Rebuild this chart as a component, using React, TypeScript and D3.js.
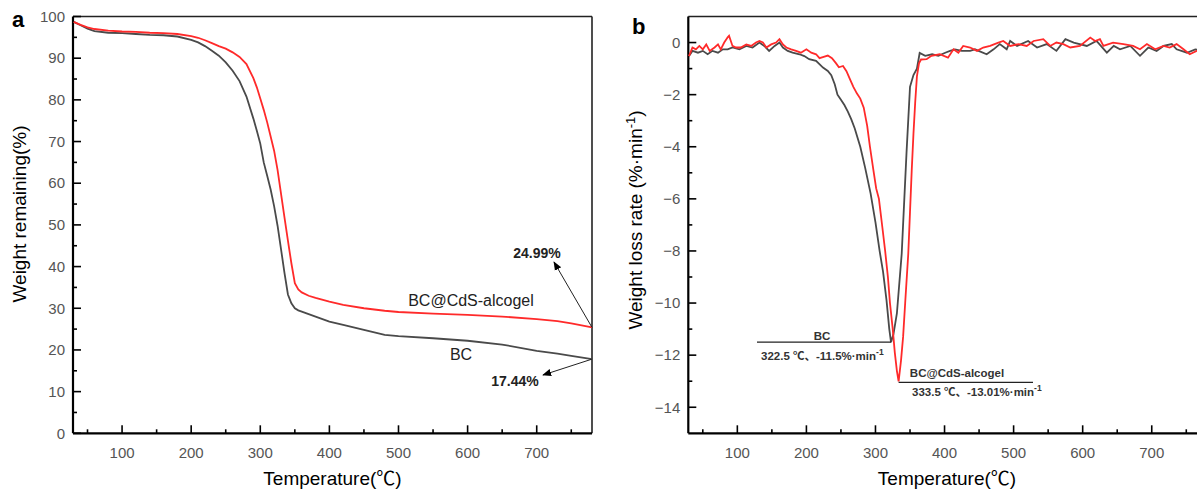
import React from "react";
import * as d3 from "d3";

// ---------- DATA ----------
const tgaTemps = [30,40,50,60,80,100,120,140,160,180,200,210,220,230,240,250,260,270,280,290,295,300,305,310,315,320,325,330,335,340,345,350,355,360,370,380,400,420,450,480,500,550,600,650,700,730,750,780];
const tgaBC = [98.7,97.9,97.1,96.5,96.1,96.0,95.8,95.6,95.5,95.2,94.4,93.8,92.9,91.8,90.6,89.0,87.0,84.5,80.8,75.5,72.6,69.5,65.0,61.8,58.5,54.5,49.8,44.2,38.5,33.3,31.2,30.0,29.5,29.2,28.6,28.0,26.8,26.0,24.8,23.6,23.3,22.8,22.2,21.3,19.8,19.1,18.6,17.8];
const tgaCdS = [98.7,98.0,97.4,97.0,96.6,96.4,96.3,96.1,96.0,95.8,95.3,94.9,94.3,93.6,92.9,92.3,91.4,90.3,88.6,85.2,83.0,80.3,77.6,74.6,71.2,67.8,63.2,57.5,51.8,46.2,40.8,36.0,34.5,33.8,33.0,32.5,31.6,30.8,30.0,29.4,29.1,28.7,28.4,28.0,27.4,26.9,26.4,25.4];

const dtgBC: [number, number][] = [
  [30,-0.52],[35,-0.32],[43,-0.39],[50,-0.32],[57,-0.45],[64,-0.32],[72,-0.39],[79,-0.26],[86,-0.26],[93,-0.19],
  [103,-0.26],[113,-0.13],[122,-0.19],[132,0.0],[139,-0.13],[146,-0.32],[154,-0.13],[161,0.0],[166,-0.19],[173,-0.32],
  [180,-0.39],[190,-0.45],[197,-0.52],[204,-0.64],[214,-0.7],[224,-0.96],[231,-1.09],[236,-1.25],[241,-1.6],[245,-2.0],
  [250,-2.2],[255,-2.4],[260,-2.65],[265,-2.95],[270,-3.3],[278,-4.0],[285,-4.8],[293,-5.8],[300,-6.9],[306,-8.0],
  [311,-8.8],[316,-9.9],[320,-11.0],[322.5,-11.5],[326,-11.2],[331,-10.4],[338,-8.1],[345,-4.2],[350,-1.7],[355,-1.25],
  [360,-1.0],[364,-0.4],[372,-0.51],[382,-0.45],[391,-0.51],[401,-0.39],[408,-0.32],[415,-0.26],[425,-0.32],[437,-0.32],
  [444,-0.26],[461,-0.45],[471,-0.26],[480,-0.06],[490,-0.26],[495,0.06],[505,-0.13],[521,0.06],[534,-0.19],[548,-0.06],
  [562,-0.32],[575,0.13],[587,0.0],[606,-0.13],[620,0.06],[635,-0.39],[645,-0.13],[654,-0.26],[669,-0.13],[683,-0.51],
  [695,-0.19],[707,-0.32],[717,-0.13],[729,-0.06],[736,-0.26],[751,-0.39],[763,-0.26],[772,-0.3],[780,-0.3]
];
const dtgCdS: [number, number][] = [
  [30,-0.52],[35,-0.19],[40,-0.26],[45,-0.13],[50,-0.26],[55,-0.07],[60,-0.32],[67,-0.19],[72,-0.07],[76,-0.26],
  [81,0.0],[86,0.2],[88,0.26],[93,-0.13],[98,-0.19],[105,-0.19],[113,-0.07],[120,-0.13],[127,0.0],[132,0.06],
  [137,0.0],[142,-0.19],[149,-0.07],[156,0.0],[161,0.13],[166,-0.07],[171,-0.19],[178,-0.26],[185,-0.32],[192,-0.39],
  [200,-0.26],[207,-0.39],[214,-0.45],[219,-0.6],[225,-0.55],[231,-0.5],[237,-0.6],[243,-0.8],[247,-0.95],[253,-0.9],
  [258,-1.1],[263,-1.4],[268,-1.7],[273,-1.95],[278,-2.15],[283,-2.5],[288,-3.2],[292,-4.0],[297,-4.9],[301,-5.6],
  [305,-6.0],[310,-7.1],[314,-8.0],[318,-9.0],[321,-10.0],[325,-11.0],[328,-11.9],[331,-12.6],[333.5,-13.01],[337,-12.2],
  [340,-11.3],[343,-10.0],[347.5,-8.1],[350,-6.5],[352.5,-4.9],[355,-3.5],[357.5,-2.3],[360,-1.3],[363,-0.8],[366,-0.65],
  [374,-0.64],[381,-0.51],[393,-0.45],[405,-0.58],[413,-0.26],[420,-0.39],[427,-0.13],[437,-0.19],[447,-0.32],[456,-0.19],
  [466,-0.13],[478,0.0],[485,0.06],[495,-0.13],[507,-0.06],[519,-0.13],[529,0.06],[543,0.13],[553,-0.13],[562,0.0],
  [572,-0.06],[582,-0.19],[596,-0.13],[611,0.19],[618,0.06],[625,0.13],[630,-0.13],[644,0.0],[659,-0.06],[673,-0.13],
  [683,-0.26],[693,-0.06],[705,-0.26],[717,-0.13],[726,-0.19],[736,-0.06],[746,-0.26],[755,-0.45],[765,-0.32],[772,-0.35],[780,-0.35]
];

const xMajor = [100,200,300,400,500,600,700];
const xMinor = [50,150,250,350,450,550,650,750];
const yAMajor = [0,10,20,30,40,50,60,70,80,90,100];
const yAMinor = [5,15,25,35,45,55,65,75,85,95];
const yBMajor = [-14,-12,-10,-8,-6,-4,-2,0];
const yBMinor = [-13,-11,-9,-7,-5,-3,-1];

const residueBC = "17.44%";
const residueCdS = "24.99%";
const peakBC = { t: 322.5, v: -11.5, label: "322.5 ℃、-11.5%·min" };
const peakCdS = { t: 333.5, v: -13.01, label: "333.5 ℃、-13.01%·min" };

const GRAY = "#4a4a4a";
const RED = "#ff2a2a";
const FONT = "'Liberation Sans', Arial, 'Noto Sans CJK SC', sans-serif";
const TICKC = "#555";

function Axes({ x, y, xMaj, xMin, yMaj, yMin, fmt }: any) {
  const [x0, x1] = x.range();
  const [y0, y1] = y.range();
  return (
    <g>
      <line x1={x0} x2={x1} y1={y1} y2={y1} stroke="#222" strokeWidth={1.6} />
      <line x1={x1} x2={x1} y1={y1} y2={y0} stroke="#222" strokeWidth={1.6} />
      {xMaj.map((t: number) => (
        <g key={"xm" + t}>
          <line x1={x(t)} x2={x(t)} y1={y0} y2={y0 - 8} stroke="#000" strokeWidth={1.6} />
          <text x={x(t)} y={y0 + 25} textAnchor="middle" fontSize={15} fill={TICKC} fontFamily={FONT}>{t}</text>
        </g>
      ))}
      {xMin.map((t: number) => (
        <line key={"xn" + t} x1={x(t)} x2={x(t)} y1={y0} y2={y0 - 4} stroke="#000" strokeWidth={1.6} />
      ))}
      {yMaj.map((t: number) => (
        <g key={"ym" + t}>
          <line x1={x0} x2={x0 + 8} y1={y(t)} y2={y(t)} stroke="#000" strokeWidth={1.6} />
          <text x={x0 - 8} y={y(t)} dy="0.35em" textAnchor="end" fontSize={15} fill={TICKC} fontFamily={FONT}>{fmt(t)}</text>
        </g>
      ))}
      {yMin.map((t: number) => (
        <line key={"yn" + t} x1={x0} x2={x0 + 4} y1={y(t)} y2={y(t)} stroke="#000" strokeWidth={1.6} />
      ))}
      <line x1={x0} x2={x1} y1={y0} y2={y0} stroke="#000" strokeWidth={2.2} />
      <line x1={x0} x2={x0} y1={y1} y2={y0} stroke="#000" strokeWidth={2.2} />
    </g>
  );
}

export default function App() {
  const xA = d3.scaleLinear().domain([29, 780]).range([73, 592]);
  const yA = d3.scaleLinear().domain([0, 100]).range([433.3, 16.5]);
  const xB = d3.scaleLinear().domain([29, 780]).range([688.3, 1207]);
  const yB = d3.scaleLinear().domain([-15, 1]).range([433.3, 16.5]);

  const lineA = (vals: number[]) =>
    d3.line<number>().x((_, i) => xA(tgaTemps[i])).y((d) => yA(d))(vals) || "";
  const lineB = d3.line<[number, number]>().x((d) => xB(d[0])).y((d) => yB(d[1]));

  const endT = tgaTemps[tgaTemps.length - 1];
  const endBC = tgaBC[tgaBC.length - 1];
  const endCdS = tgaCdS[tgaCdS.length - 1];
  const fmtB = d3.format("d");

  return (
    <svg width={1197} height={490} style={{ position: "absolute", left: 0, top: 0, background: "#fff" }} fontFamily={FONT}>
      <defs>
        <marker id="arr" viewBox="0 0 10 10" refX="9" refY="5" markerWidth="9" markerHeight="9" markerUnits="userSpaceOnUse" orient="auto">
          <path d="M0,1 L10,5 L0,9 z" fill="#000" />
        </marker>
      </defs>
      <rect x={0} y={0} width={1197} height={490} fill="#fff" />

      {/* Panel a */}
      <text x={12} y={27} fontSize={22} fontWeight="bold" fill="#000">a</text>
      <Axes x={xA} y={yA} xMaj={xMajor} xMin={xMinor} yMaj={yAMajor} yMin={yAMinor} fmt={(t: number) => String(t)} />
      <path d={lineA(tgaBC)} fill="none" stroke={GRAY} strokeWidth={1.8} />
      <path d={lineA(tgaCdS)} fill="none" stroke={RED} strokeWidth={1.8} />
      <text x={332.5} y={485} textAnchor="middle" fontSize={19} fill="#000">Temperature(℃)</text>
      <text transform="translate(26,214) rotate(-90)" textAnchor="middle" fontSize={19} fill="#000">Weight remaining(%)</text>
      <text x={471} y={306} textAnchor="middle" fontSize={16} fill="#222">BC@CdS-alcogel</text>
      <text x={461} y={360} textAnchor="middle" fontSize={16} fill="#222">BC</text>
      <line x1={xA(endT)} y1={yA(endCdS)} x2={554} y2={262} stroke="#222" strokeWidth={1} markerEnd="url(#arr)" />
      <text x={537} y={258} textAnchor="middle" fontSize={14} fontWeight="bold" fill="#222">{residueCdS}</text>
      <line x1={xA(endT)} y1={yA(endBC)} x2={543} y2={375} stroke="#222" strokeWidth={1} markerEnd="url(#arr)" />
      <text x={515} y={386} textAnchor="middle" fontSize={14} fontWeight="bold" fill="#222">{residueBC}</text>

      {/* Panel b */}
      <text x={632} y={34} fontSize={22} fontWeight="bold" fill="#000">b</text>
      <Axes x={xB} y={yB} xMaj={xMajor} xMin={xMinor} yMaj={yBMajor} yMin={yBMinor} fmt={fmtB} />
      <path d={lineB(dtgBC) || ""} fill="none" stroke={GRAY} strokeWidth={1.8} />
      <path d={lineB(dtgCdS) || ""} fill="none" stroke={RED} strokeWidth={1.8} />
      <text x={947} y={485} textAnchor="middle" fontSize={19} fill="#000">Temperature(℃)</text>
      <text transform="translate(642,220) rotate(-90)" textAnchor="middle" fontSize={19} fill="#000">
        Weight loss rate (%·min<tspan dy={-7} fontSize={13}>-1</tspan><tspan dy={7}>)</tspan>
      </text>

      <line x1={757} x2={xB(peakBC.t)} y1={yB(peakBC.v)} y2={yB(peakBC.v)} stroke="#222" strokeWidth={1.2} />
      <text x={822} y={340} textAnchor="middle" fontSize={11.5} fontWeight="bold" fill="#333">BC</text>
      <text x={761} y={360} fontSize={11.5} fontWeight="bold" fill="#333">{peakBC.label}<tspan dy={-5} fontSize={8.5}>-1</tspan></text>

      <line x1={xB(peakCdS.t)} x2={1033} y1={yB(peakCdS.v) + 1} y2={yB(peakCdS.v) + 1} stroke="#222" strokeWidth={1.2} />
      <text x={957} y={377} textAnchor="middle" fontSize={11.5} fontWeight="bold" fill="#333">BC@CdS-alcogel</text>
      <text x={912} y={396} fontSize={11.5} fontWeight="bold" fill="#333">{peakCdS.label}<tspan dy={-5} fontSize={8.5}>-1</tspan></text>
    </svg>
  );
}
